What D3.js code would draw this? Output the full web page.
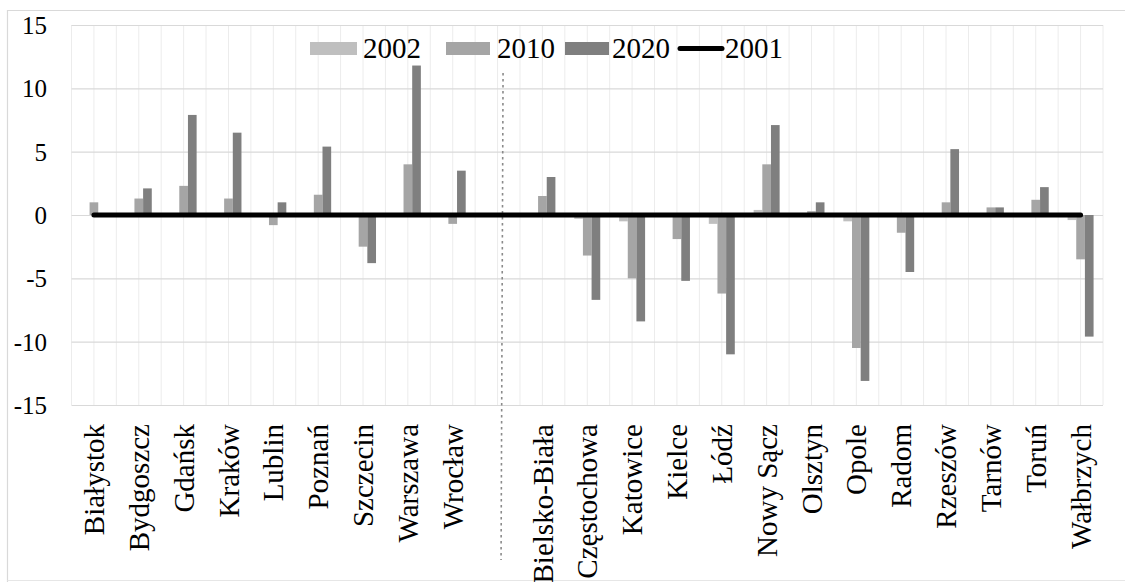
<!DOCTYPE html>
<html>
<head>
<meta charset="utf-8">
<script src="https://cdn.jsdelivr.net/npm/d3@7"></script>
<style>
  html, body { margin: 0; padding: 0; background: #fff; }
  svg { display: block; }
  svg text { font-family: "Liberation Serif", "DejaVu Serif", serif !important; fill: #000; }
</style>
</head>
<body>
<svg id="chart" width="1125" height="582"></svg>
<script>
// ---- data ----
const cities = ["Białystok","Bydgoszcz","Gdańsk","Kraków","Lublin","Poznań","Szczecin","Warszawa","Wrocław","",
  "Bielsko-Biała","Częstochowa","Katowice","Kielce","Łódź","Nowy Sącz","Olsztyn","Opole","Radom","Rzeszów","Tarnów","Toruń","Wałbrzych"];
const series = ["2002","2010","2020"];
const v2002 = [0, 0.1, 0, 0, 0, 0, 0, 0.1, 0, null, 0, -0.3, -0.5, 0, -0.7, 0.4, 0, -0.5, 0, 0, 0, 0.1, -0.4];
const v2010 = [1.0, 1.3, 2.3, 1.3, -0.8, 1.6, -2.5, 4.0, -0.7, null, 1.5, -3.2, -5.0, -1.9, -6.2, 4.0, 0.3, -10.5, -1.4, 1.0, 0.6, 1.2, -3.5];
const v2020 = [0.1, 2.1, 7.9, 6.5, 1.0, 5.4, -3.8, 11.8, 3.5, null, 3.0, -6.7, -8.4, -5.2, -11.0, 7.1, 1.0, -13.1, -4.5, 5.2, 0.6, 2.2, -9.6];
const v2001 = [0,0,0,0,0,0,0,0,0,0,0,0,0,0,0,0,0,0,0,0,0,0,0];
const yTicks = [-15, -10, -5, 0, 5, 10, 15];
const legendLabels = ["2002","2010","2020","2001"];

const seriesValues = {"2002": v2002, "2010": v2010, "2020": v2020};
const colors = {"2002": "#bfbfbf", "2010": "#a5a5a5", "2020": "#7f7f7f"};
const FONT = '"Liberation Serif", "DejaVu Serif", serif';

// ---- layout ----
const pL = 71.5, pR = 1103, pT = 25, pB = 405;
const svg = d3.select("#chart");

// outer border
svg.append("path")
  .attr("d", `M7.5,582 L7.5,10.5 L1125,10.5`)
  .attr("fill", "none").attr("stroke", "#d9d9d9").attr("stroke-width", 1.2);
svg.append("line").attr("x1", 7.5).attr("x2", 1125).attr("y1", 580.5).attr("y2", 580.5)
  .attr("stroke", "#e6e6e6").attr("stroke-width", 1);

const x0 = d3.scaleBand().domain(d3.range(cities.length)).range([pL, pR]).padding(0);
const bw = x0.bandwidth();
const x1 = d3.scaleBand().domain(series).range([-13, 13]).padding(0);
const y = d3.scaleLinear().domain([-15, 15]).range([pB, pT]);

// vertical gridlines at every half band
const g = svg.append("g");
g.selectAll("line.vg").data(d3.range(cities.length * 2 + 1)).join("line")
  .attr("class", "vg")
  .attr("x1", i => pL + i * bw / 2).attr("x2", i => pL + i * bw / 2)
  .attr("y1", pT).attr("y2", pB)
  .attr("stroke", "#ececec").attr("stroke-width", 1);

// horizontal gridlines via axis
const yAxis = d3.axisLeft(y).tickValues(yTicks).tickSize(-(pR - pL)).tickFormat(d => d);
const ya = svg.append("g").attr("transform", `translate(${pL},0)`).call(yAxis)
  .attr("font-family", FONT);
ya.select(".domain").remove();
ya.selectAll(".tick line").attr("stroke", "#d9d9d9").attr("stroke-width", 1.2);
ya.selectAll(".tick text")
  .attr("x", -24.5)
  .attr("dy", "0.34em")
  .attr("font-family", FONT)
  .style("font-size", "25px").attr("fill", "#000");

// bars
const barG = svg.append("g");
series.forEach(s => {
  const vals = seriesValues[s];
  barG.selectAll(null).data(vals.map((v, i) => ({v, i})).filter(d => d.v !== null && d.v !== 0)).join("rect")
    .attr("x", d => x0(d.i) + bw / 2 + x1(s))
    .attr("width", x1.bandwidth())
    .attr("y", d => y(Math.max(0, d.v)))
    .attr("height", d => Math.abs(y(d.v) - y(0)))
    .attr("fill", colors[s]);
});

// dashed separator in the blank category
const blankIdx = cities.indexOf("");
const sepX = x0(blankIdx) + bw / 2 + 5.5;
svg.append("line")
  .attr("x1", sepX).attr("x2", sepX - 2)
  .attr("y1", 73).attr("y2", 560)
  .attr("stroke", "#8a8a8a").attr("stroke-width", 1.6).attr("stroke-dasharray", "2.5,3.5");

// 2001 line
const line = d3.line().x((d, i) => x0(i) + bw / 2).y(d => y(d));
svg.append("path").datum(v2001)
  .attr("d", line)
  .attr("fill", "none").attr("stroke", "#000").attr("stroke-width", 5).attr("stroke-linecap", "round");

// x labels
const xa = svg.append("g");
xa.selectAll("text").data(cities.map((c, i) => ({c, i})).filter(d => d.c !== "")).join("text")
  .attr("transform", d => `translate(${x0(d.i) + bw / 2},424) rotate(-90)`)
  .attr("text-anchor", "end")
  .attr("dy", "0.35em")
  .attr("font-family", FONT)
  .style("font-size", "29px")
  .text(d => d.c);

// legend
const legSw = [310, 446, 565, 680];
const legTx = [363, 497, 612, 725];
const leg = svg.append("g");
legendLabels.forEach((lab, k) => {
  const lx = legSw[k];
  if (k < 3) {
    leg.append("rect").attr("x", lx).attr("y", 42).attr("width", k === 0 ? 47 : 44).attr("height", 13)
      .attr("fill", colors[lab]);
  } else {
    leg.append("line").attr("x1", lx).attr("x2", lx + 42).attr("y1", 48.5).attr("y2", 48.5)
      .attr("stroke", "#000").attr("stroke-width", 5).attr("stroke-linecap", "round");
  }
  leg.append("text").attr("x", legTx[k]).attr("y", 58)
    .attr("font-family", FONT)
    .style("font-size", "29px").text(lab);
});
</script>
</body>
</html>
